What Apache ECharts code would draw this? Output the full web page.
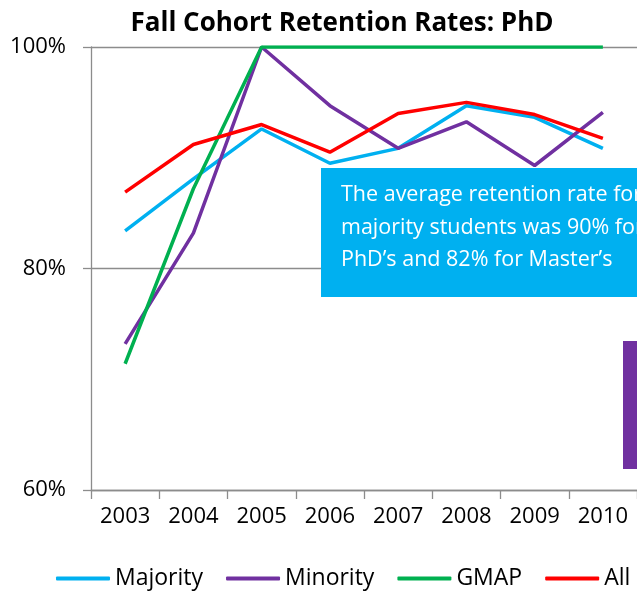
<!DOCTYPE html>
<html><head><meta charset="utf-8">
<script src="https://cdn.jsdelivr.net/npm/echarts@6/dist/echarts.min.js"></script>
<style>html,body{margin:0;padding:0;background:#fff}#c{width:637px;height:595px}</style>
</head><body><div id="c"></div>
<script>
const years = ['2003','2004','2005','2006','2007','2008','2009','2010'];
const majority = [83.4, 88.1, 92.6, 89.5, 90.85, 94.7, 93.65, 90.85];
const minority = [73.2, 83.2, 100, 94.7, 90.85, 93.25, 89.3, 94.1];
const gmap = [71.4, 87.2, 100, 100, 100, 100, 100, 100];
const all = [86.9, 91.2, 93.0, 90.5, 94.0, 95.0, 93.9, 91.75];
const yTicks = [60, 80, 100];

const FONT = 'Open Sans';
const chart = echarts.init(document.getElementById('c'), null, {renderer:'canvas'});
function line(name, data, color){
  return {name, type:'line', data, symbol:'none', smooth:false,
    lineStyle:{color, width:3.5}, itemStyle:{color}, z:3};
}
chart.setOption({
  animation:false,
  textStyle:{fontFamily:FONT},
  title:{text:'Fall Cohort Retention Rates: PhD', left:342, textAlign:'center', top:11, padding:0,
    textStyle:{fontFamily:FONT, fontWeight:'bold', fontSize:26, color:'#000'}},
  legend:{top:567, left:56, padding:0, itemWidth:54, itemHeight:4, itemGap:23, icon:'roundRect',
    textStyle:{fontFamily:FONT, fontSize:23, color:'#000'},
    data:['Majority','Minority','GMAP','All']},
  grid:{left:91, top:47, width:549.6, bottom:105, containLabel:false},
  xAxis:{type:'category', data:years, boundaryGap:true,
    axisLine:{lineStyle:{color:'#8c8c8c', width:1.3}},
    axisTick:{show:true, length:9, lineStyle:{color:'#8c8c8c', width:1.3}},
    axisLabel:{fontFamily:FONT, fontSize:22, color:'#000', margin:16}},
  yAxis:{type:'value', min:60, max:100, interval:20,
    axisLine:{show:true, lineStyle:{color:'#8c8c8c', width:1.3}},
    axisTick:{show:true, inside:false, length:8, lineStyle:{color:'#8c8c8c', width:1.3}},
    splitLine:{show:true, lineStyle:{color:'#8c8c8c', width:1.3}},
    axisLabel:{fontFamily:FONT, fontSize:22, color:'#000', margin:25,
      formatter:v=> yTicks.includes(v) ? v+'%' : ''}},
  series:[
    line('Majority', majority, '#00b0f0'),
    line('Minority', minority, '#7030a0'),
    line('GMAP', gmap, '#00b050'),
    line('All', all, '#ff0000')
  ],
  graphic:[
    {type:'rect', shape:{x:321, y:168, width:330, height:129}, style:{fill:'#00b0f0'}, z:10},
    {type:'text', x:341, y:179, style:{text:'The average retention rate for\nmajority students was 90% for\nPhD’s and 82% for Master’s',
      fill:'#fff', fontFamily:FONT, fontSize:21.5, lineHeight:32.5}, z:11},
    {type:'rect', shape:{x:623, y:341, width:30, height:128}, style:{fill:'#7030a0'}, z:10}
  ]
});
</script></body></html>
